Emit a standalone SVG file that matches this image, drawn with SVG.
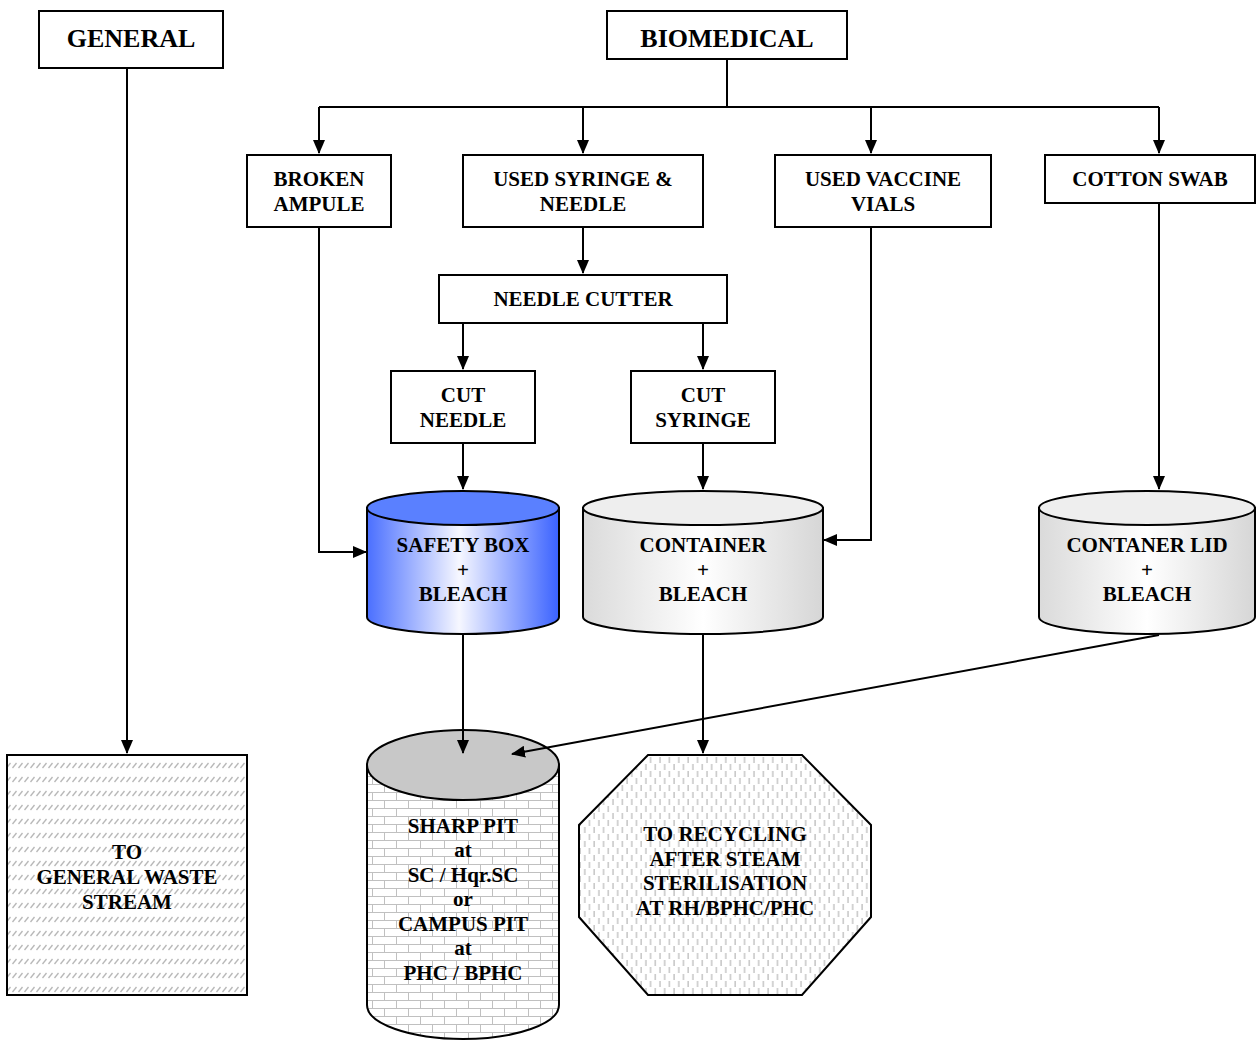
<svg xmlns="http://www.w3.org/2000/svg" width="1260" height="1041" viewBox="0 0 1260 1041">
<style>
.box{fill:#fff;stroke:#000;stroke-width:2}
.t{font-family:"Liberation Serif","Times New Roman",serif;font-weight:bold;font-size:21px;fill:#000;text-anchor:middle}
.big{font-size:26px}
.ln{fill:none;stroke:#000;stroke-width:2}
.arr{fill:none;stroke:#000;stroke-width:2;marker-end:url(#ah)}
.cyl{stroke:#000;stroke-width:2}
</style>
<defs>
<marker id="ah" markerUnits="userSpaceOnUse" markerWidth="14" markerHeight="12" refX="13" refY="6" orient="auto" viewBox="0 0 14 12">
<path d="M0,0 L14,6 L0,12 z" fill="#000"/>
</marker>
<linearGradient id="gBlue" x1="0" y1="0" x2="1" y2="0">
<stop offset="0" stop-color="#4A6FFF"/>
<stop offset="0.48" stop-color="#F6F7FF"/>
<stop offset="1" stop-color="#3A62FF"/>
</linearGradient>
<linearGradient id="gGrey" x1="0" y1="0" x2="1" y2="0">
<stop offset="0" stop-color="#DADADA"/>
<stop offset="0.5" stop-color="#FFFFFF"/>
<stop offset="1" stop-color="#D6D6D6"/>
</linearGradient>
<pattern id="pDiag" patternUnits="userSpaceOnUse" width="6" height="14">
<rect width="6" height="14" fill="#fff"/>
<line x1="0.5" y1="12" x2="4.5" y2="7" stroke="#B8B8B8" stroke-width="1.3"/>
</pattern>
<pattern id="pBrick" patternUnits="userSpaceOnUse" width="24" height="16">
<rect width="24" height="16" fill="#fff"/>
<path d="M0,0.5 H24 M0,8.5 H24 M0.5,0 V8 M12.5,8 V16" stroke="#C0C0C0" stroke-width="1" fill="none"/>
</pattern>
<pattern id="pVert" patternUnits="userSpaceOnUse" width="9.4" height="14">
<rect width="9.4" height="14" fill="#fff"/>
<path d="M2,1 V7 M6.7,8 V14" stroke="#BDBDBD" stroke-width="1.3" fill="none"/>
</pattern>
</defs>

<g id="connectors">
<path class="arr" d="M127,68 V753"/>
<path class="ln" d="M727,59 V107 M319,107 H1159"/>
<path class="arr" d="M319,107 V153"/>
<path class="arr" d="M583,107 V153"/>
<path class="arr" d="M871,107 V153"/>
<path class="arr" d="M1159,107 V153"/>
<path class="arr" d="M583,227 V273"/>
<path class="arr" d="M463,323 V369"/>
<path class="arr" d="M703,323 V369"/>
<path class="arr" d="M463,443 V489"/>
<path class="arr" d="M703,443 V489"/>
<path class="arr" d="M319,227 V552 H366"/>
<path class="arr" d="M871,227 V540 H824"/>
<path class="arr" d="M1159,203 V489"/>
<path class="arr" d="M703,635 V753"/>
</g>

<g id="general"><rect class="box" x="39" y="11" width="184" height="57"/><text class="t big" x="131" y="47">GENERAL</text></g>
<g id="biomedical"><rect class="box" x="607" y="11" width="240" height="48"/><text class="t big" x="727" y="47">BIOMEDICAL</text></g>
<g id="broken-ampule"><rect class="box" x="247" y="155" width="144" height="72"/><text class="t" x="319" y="186">BROKEN</text><text class="t" x="319" y="211">AMPULE</text></g>
<g id="used-syringe"><rect class="box" x="463" y="155" width="240" height="72"/><text class="t" x="583" y="186">USED SYRINGE &amp;</text><text class="t" x="583" y="211">NEEDLE</text></g>
<g id="used-vials"><rect class="box" x="775" y="155" width="216" height="72"/><text class="t" x="883" y="186">USED VACCINE</text><text class="t" x="883" y="211">VIALS</text></g>
<g id="cotton-swab"><rect class="box" x="1045" y="155" width="210" height="48"/><text class="t" x="1150" y="186">COTTON SWAB</text></g>
<g id="needle-cutter"><rect class="box" x="439" y="275" width="288" height="48"/><text class="t" x="583" y="306">NEEDLE CUTTER</text></g>
<g id="cut-needle"><rect class="box" x="391" y="371" width="144" height="72"/><text class="t" x="463" y="402">CUT</text><text class="t" x="463" y="427">NEEDLE</text></g>
<g id="cut-syringe"><rect class="box" x="631" y="371" width="144" height="72"/><text class="t" x="703" y="402">CUT</text><text class="t" x="703" y="427">SYRINGE</text></g>

<g id="safety-box">
<path class="cyl" fill="url(#gBlue)" d="M367,508 V617 A96,17 0 0 0 559,617 V508 Z"/>
<ellipse class="cyl" cx="463" cy="508" rx="96" ry="17" fill="#5A80FF"/>
<text class="t" x="463" y="552">SAFETY BOX</text><text class="t" x="463" y="577">+</text><text class="t" x="463" y="601">BLEACH</text>
</g>
<g id="container">
<path class="cyl" fill="url(#gGrey)" d="M583,508 V617 A120,17 0 0 0 823,617 V508 Z"/>
<ellipse class="cyl" cx="703" cy="508" rx="120" ry="17" fill="#EEEEEE"/>
<text class="t" x="703" y="552">CONTAINER</text><text class="t" x="703" y="577">+</text><text class="t" x="703" y="601">BLEACH</text>
</g>
<g id="container-lid">
<path class="cyl" fill="url(#gGrey)" d="M1039,508 V617 A108,17 0 0 0 1255,617 V508 Z"/>
<ellipse class="cyl" cx="1147" cy="508" rx="108" ry="17" fill="#EEEEEE"/>
<text class="t" x="1147" y="552">CONTANER LID</text><text class="t" x="1147" y="577">+</text><text class="t" x="1147" y="601">BLEACH</text>
</g>

<g id="general-waste">
<rect x="7" y="755" width="240" height="240" fill="url(#pDiag)" stroke="#000" stroke-width="2"/>
<text class="t" x="127" y="859">TO</text><text class="t" x="127" y="884">GENERAL WASTE</text><text class="t" x="127" y="909">STREAM</text>
</g>
<g id="sharp-pit">
<path class="cyl" fill="url(#pBrick)" d="M367,765 V1005 A96,34 0 0 0 559,1005 V765 Z"/>
<ellipse class="cyl" cx="463" cy="765" rx="96" ry="35" fill="#C8C8C8"/>
<text class="t" x="463" y="833">SHARP PIT</text><text class="t" x="463" y="857">at</text><text class="t" x="463" y="882">SC / Hqr.SC</text><text class="t" x="463" y="906">or</text><text class="t" x="463" y="931">CAMPUS PIT</text><text class="t" x="463" y="955">at</text><text class="t" x="463" y="980">PHC / BPHC</text>
</g>
<g id="recycling">
<polygon points="648,755 802,755 871,825 871,917 802,995 648,995 579,917 579,825" fill="url(#pVert)" stroke="#000" stroke-width="2"/>
<text class="t" x="725" y="841">TO RECYCLING</text><text class="t" x="725" y="866">AFTER STEAM</text><text class="t" x="725" y="890">STERILISATION</text><text class="t" x="725" y="915">AT RH/BPHC/PHC</text>
</g>

<g id="connectors-over">
<path class="arr" d="M463,635 V753"/>
<path class="arr" d="M1159,635 L512,754"/>
</g>
</svg>
